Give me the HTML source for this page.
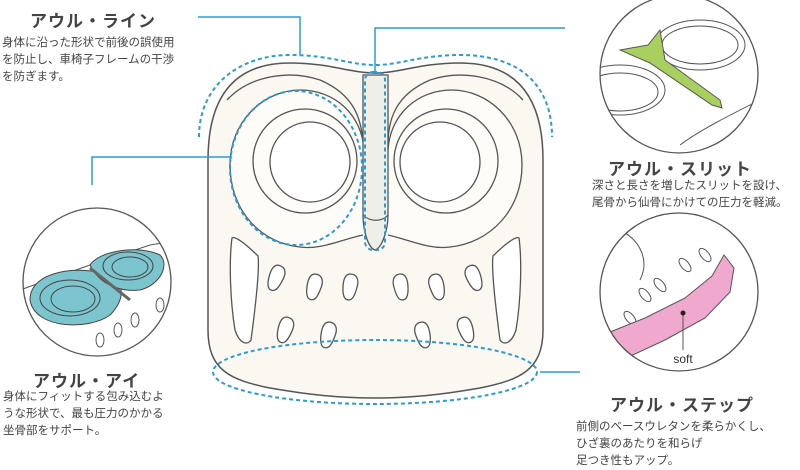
<!DOCTYPE html>
<html><head><meta charset="utf-8"><style>
html,body{margin:0;padding:0;background:#fff}
body{width:800px;height:468px;overflow:hidden;position:relative;font-family:"Liberation Sans","Noto Sans CJK JP",sans-serif;color:#444}
.t{position:absolute;font-weight:bold;font-size:17px;color:#444;letter-spacing:1px}
.d{position:absolute;font-size:11.5px;line-height:17px;color:#444}
</style></head><body>
<svg width="800" height="468" style="position:absolute;left:0;top:0">
<defs>
<clipPath id="c1"><circle cx="97" cy="282" r="74"/></clipPath>
<clipPath id="c2"><circle cx="679" cy="74" r="79"/></clipPath>
<clipPath id="c3"><circle cx="679" cy="292" r="79"/></clipPath>
<path id="s" d="M0,-13 C6,-13 9,-8 7,0 C5,9 3,13 -1,13 C-5,13 -7,8 -7,0 C-7,-8 -5,-13 0,-13 Z"/>
</defs>
<path d="M208,160 C208,90 240,63 290,63 C330,63 350,73 375,73 C400,73 420,63 460,63 C515,63 543,95 543,160 L543,330 C543,370 520,380 480,388 C440,395 410,398 375,398 C340,398 310,395 270,388 C230,380 208,370 208,330 Z" fill="#fbf8f1" stroke="#555" stroke-width="1.5"/>
<path d="M227,100 C250,75 290,70 320,80 C355,95 362,120 363,145" fill="none" stroke="#555" stroke-width="1.3"/>
<path d="M523,100 C500,75 460,70 430,80 C395,95 388,120 388,145" fill="none" stroke="#555" stroke-width="1.3"/>
<path d="M363,235 C340,240 320,250 300,247 C260,243 230,210 230,165 C230,120 265,90 300,90 C335,90 362,115 364,150" fill="#fdfcf8" stroke="#555" stroke-width="1.3"/>
<path d="M388,235 C410,240 430,250 450,247 C490,243 522,210 522,165 C522,120 487,90 452,90 C417,90 390,115 388,150" fill="#fdfcf8" stroke="#555" stroke-width="1.3"/>
<circle cx="305" cy="161" r="52" fill="none" stroke="#555" stroke-width="1.3"/>
<circle cx="310" cy="162" r="40" fill="#fff" stroke="#555" stroke-width="1.3"/>
<circle cx="446" cy="161" r="52" fill="none" stroke="#555" stroke-width="1.3"/>
<circle cx="440" cy="162" r="40" fill="#fff" stroke="#555" stroke-width="1.3"/>
<path d="M363,75 L388,75 L388,215 C388,230 382,248 375,250 C368,248 363,230 363,215 Z" fill="#eef0e8" stroke="#555" stroke-width="1.3"/>
<path d="M363,215 C370,222 382,222 388,215" fill="none" stroke="#555" stroke-width="1.2"/>
<path d="M232,238 C236,235 252,250 258,256 C260,270 255,310 251,340 C248,345 240,345 235,330 C230,300 229,260 232,238 Z" fill="#fff" stroke="#555" stroke-width="1.3"/>
<path d="M519,238 C515,235 499,250 493,256 C491,270 496,310 500,340 C503,345 511,345 516,330 C521,300 522,260 519,238 Z" fill="#fff" stroke="#555" stroke-width="1.3"/>
<g fill="#fff" stroke="#555" stroke-width="1.3">
<use href="#s" transform="translate(276 278) rotate(15)"/>
<use href="#s" transform="translate(314 287) rotate(8)"/>
<use href="#s" transform="translate(350 287) rotate(3)"/>
<use href="#s" transform="translate(401 287) rotate(-3) scale(-1 1)"/>
<use href="#s" transform="translate(437 287) rotate(-8) scale(-1 1)"/>
<use href="#s" transform="translate(474 278) rotate(-15) scale(-1 1)"/>
<use href="#s" transform="translate(285 330) rotate(12)"/>
<use href="#s" transform="translate(328 335) rotate(8)"/>
<use href="#s" transform="translate(423 335) rotate(-8) scale(-1 1)"/>
<use href="#s" transform="translate(466 330) rotate(-12) scale(-1 1)"/>
</g>
<g fill="none" stroke="#2a9bd6" stroke-width="2" stroke-dasharray="4,3">
<path d="M199,137 C199,85 240,55 290,55 C330,55 350,65 375,65 C400,65 420,55 460,55 C520,55 552,85 552,137"/>
<ellipse cx="296" cy="168" rx="66" ry="77"/>
<ellipse cx="375" cy="372" rx="162" ry="32"/>
<rect x="365" y="72" width="20" height="178" rx="8"/>
</g>
<g fill="none" stroke="#2a9bd6" stroke-width="1.5">
<polyline points="198,17 300,17 300,55"/>
<polyline points="565,28 375,28 375,72"/>
<polyline points="92,185 92,157 232,157"/>
<polyline points="540,372 580,372"/>
</g>
<g clip-path="url(#c1)">
<rect x="20" y="205" width="160" height="160" fill="#fff"/>
<path d="M20,290 L90,265 L150,245 L180,240" fill="none" stroke="#555"/>
<path d="M30,300 C30,270 80,265 110,275 C125,282 125,300 110,315 C90,330 35,330 30,300 Z" fill="#7cc5cf" stroke="#444"/>
<path d="M90,265 C100,250 140,245 160,255 C170,265 160,285 140,290 C120,292 100,285 90,265 Z" fill="#7cc5cf" stroke="#444"/>
<ellipse cx="70" cy="298" rx="30" ry="18" fill="none" stroke="#444"/>
<ellipse cx="73" cy="299" rx="22" ry="13" fill="none" stroke="#444"/>
<ellipse cx="128" cy="266" rx="25" ry="14" fill="none" stroke="#444"/>
<ellipse cx="130" cy="267" rx="18" ry="10" fill="none" stroke="#444"/>
<path d="M90,268 L130,300" stroke="#666" stroke-width="3"/>
<g fill="#fff" stroke="#555"><ellipse cx="100" cy="340" rx="4" ry="7"/><ellipse cx="118" cy="330" rx="4" ry="7"/><ellipse cx="135" cy="320" rx="4" ry="7"/><ellipse cx="160" cy="305" rx="4" ry="7"/></g>
</g>
<circle cx="97" cy="282" r="74" fill="none" stroke="#555" stroke-width="1.3"/>
<g clip-path="url(#c2)">
<rect x="595" y="-10" width="170" height="170" fill="#fff"/>
<ellipse cx="700" cy="45" rx="45" ry="25" fill="none" stroke="#555"/>
<ellipse cx="700" cy="45" rx="38" ry="19" fill="none" stroke="#555"/>
<ellipse cx="620" cy="90" rx="45" ry="25" fill="none" stroke="#555"/>
<ellipse cx="620" cy="92" rx="38" ry="19" fill="none" stroke="#555"/>
<path d="M620,50 L648,45 L660,30 L665,60 L720,100 L722,108 L712,105 L650,63 Z" fill="#a9cf5f" stroke="#555"/>
<path d="M680,145 C700,130 730,115 760,100" fill="none" stroke="#555"/>
</g>
<circle cx="679" cy="74" r="79" fill="none" stroke="#555" stroke-width="1.3"/>
<g clip-path="url(#c3)">
<rect x="595" y="210" width="170" height="170" fill="#fff"/>
<path d="M620,230 C640,240 650,260 640,280" fill="none" stroke="#555"/>
<g fill="#fff" stroke="#555"><ellipse cx="645" cy="295" rx="4" ry="8" transform="rotate(-40 645 295)"/><ellipse cx="660" cy="285" rx="4" ry="8" transform="rotate(-40 660 285)"/><ellipse cx="685" cy="265" rx="4" ry="8" transform="rotate(-40 685 265)"/><ellipse cx="705" cy="255" rx="4" ry="8" transform="rotate(-40 705 255)"/><ellipse cx="630" cy="318" rx="4" ry="8" transform="rotate(-40 630 318)"/></g>
<path d="M610,332 L645,318 L685,298 L712,276 L724,255 L734,268 L730,292 L705,318 L665,340 L622,360 Z" fill="#f0a8cf" stroke="#555"/>
<line x1="683" y1="313" x2="683" y2="350" stroke="#555"/>
<circle cx="683" cy="313" r="2.5" fill="#222"/>
<text x="683" y="363" text-anchor="middle" font-family="Liberation Sans, sans-serif" font-size="12" fill="#333">soft</text>
</g>
<circle cx="679" cy="292" r="79" fill="none" stroke="#555" stroke-width="1.3"/>
</svg>
<div class="t" style="left:30px;top:7px">アウル・ライン</div>
<div class="d" style="left:2px;top:35px">身体に沿った形状で前後の誤使用<br>を防止し、車椅子フレームの干渉<br>を防ぎます。</div>
<div class="t" style="left:33px;top:367px">アウル・アイ</div>
<div class="d" style="left:3px;top:389px">身体にフィットする包み込むよ<br>うな形状で、最も圧力のかかる<br>坐骨部をサポート。</div>
<div class="t" style="left:608px;top:155px">アウル・スリット</div>
<div class="d" style="left:592px;top:178px">深さと長さを増したスリットを設け、<br>尾骨から仙骨にかけての圧力を軽減。</div>
<div class="t" style="left:610px;top:391px">アウル・ステップ</div>
<div class="d" style="left:576px;top:419px">前側のベースウレタンを柔らかくし、<br>ひざ裏のあたりを和らげ<br>足つき性もアップ。</div>
</body></html>
